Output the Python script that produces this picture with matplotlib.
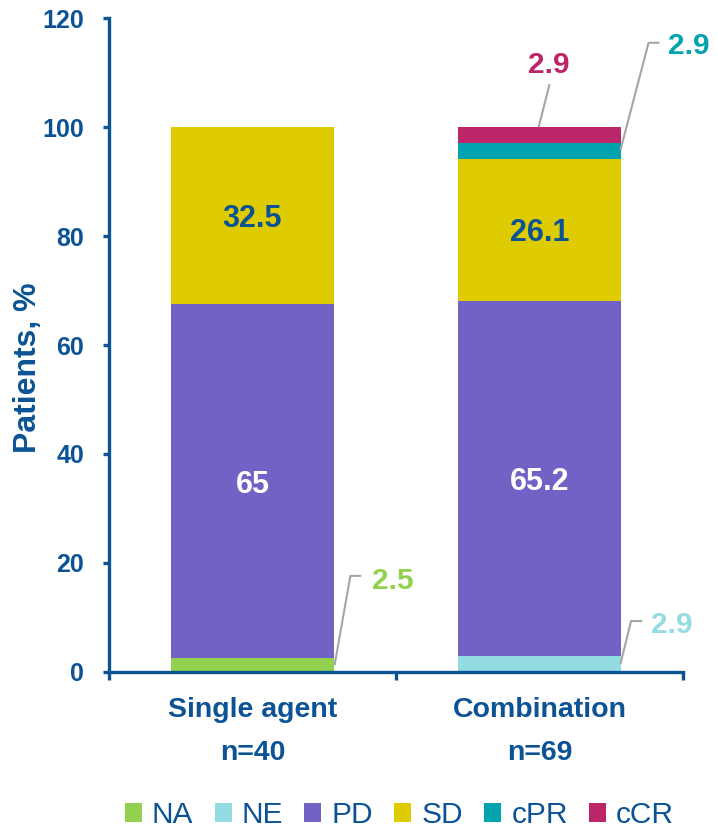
import matplotlib
matplotlib.use("Agg")
import matplotlib.pyplot as plt
from matplotlib.patches import Patch
import numpy as np

plt.rcParams['font.family'] = ['Liberation Sans', 'DejaVu Sans']

groups = ["Single agent", "Combination"]
group_n = ["n=40", "n=69"]
segments = ["NA", "NE", "PD", "SD", "cPR", "cCR"]
values = {
    "NA":  [2.5, 0.0],
    "NE":  [0.0, 2.9],
    "PD":  [65.0, 65.2],
    "SD":  [32.5, 26.1],
    "cPR": [0.0, 2.9],
    "cCR": [0.0, 2.9],
}
colors = {
    "NA": "#92D050",
    "NE": "#93DCE1",
    "PD": "#7262C6",
    "SD": "#DFCC00",
    "cPR": "#00A3AE",
    "cCR": "#BC2567",
}
yticks = [0, 20, 40, 60, 80, 100, 120]

navy = "#0B5394"
gray = "#A6A6A6"

W, H = 718, 830
fig = plt.figure(figsize=(W/100, H/100), dpi=100)
L, R, T, B = 109, 683, 18.3, 671.7
ax = fig.add_axes([L/W, 1-B/H, (R-L)/W, (B-T)/H])

x = np.arange(len(groups))
width = 0.565
bottom = np.zeros(len(groups))
for s in segments:
    v = np.array(values[s])
    ax.bar(x, v, width, bottom=bottom, color=colors[s], edgecolor='none', zorder=2)
    bottom += v

ax.set_xlim(-0.5, 1.5)
ax.set_ylim(0, 120)
ax.set_yticks(yticks)
ax.set_yticklabels([str(t) for t in yticks], fontsize=18, fontweight='bold', color=navy)
ax.set_xticks([])
ax.set_xticks([-0.5, 0.5, 1.5], minor=True)
ax.tick_params(axis='x', which='minor', length=5.5, width=2.4, color=navy, direction='out')
ax.tick_params(axis='y', length=4.5, width=2.4, color=navy, direction='out', pad=13.5)
for sp in ['top', 'right']:
    ax.spines[sp].set_visible(False)
for sp in ['left', 'bottom']:
    ax.spines[sp].set_color(navy)
    ax.spines[sp].set_linewidth(2.4)

fig.text(36/W, 1-367.5/H, "Patients, %", rotation=90, rotation_mode='anchor',
         ha='center', va='baseline', fontsize=23, fontweight='bold', color=navy)

def px2y(py):
    return (B - py) / (B - T) * 120

for i in range(len(groups)):
    ax.text(x[i], px2y(716.5), groups[i], ha='center', va='baseline', fontsize=20.5,
            fontweight='bold', color=navy, clip_on=False)
    ax.text(x[i], px2y(760), group_n[i], ha='center', va='baseline', fontsize=20.5,
            fontweight='bold', color=navy, clip_on=False)

def seg_mid(seg, i):
    idx = segments.index(seg)
    b = sum(values[s][i] for s in segments[:idx])
    return b + values[seg][i] / 2

for i in range(len(groups)):
    ax.text(x[i], seg_mid("SD", i), f"{values['SD'][i]:g}", ha='center', va='center_baseline',
            fontsize=22, fontweight='bold', color=navy, zorder=4)
    ax.text(x[i], seg_mid("PD", i), f"{values['PD'][i]:g}", ha='center', va='center_baseline',
            fontsize=22, fontweight='bold', color='white', zorder=4)

def leader(pts, label, col, tx, ty, ha='left'):
    xs, ys = zip(*pts)
    ax.plot(xs, ys, color=gray, lw=1.5, zorder=3, clip_on=False, solid_capstyle='butt')
    ax.text(tx, ty, label, ha=ha, va='center_baseline', fontsize=21.5, fontweight='bold',
            color=col, clip_on=False)

leader([(0.286, 1.2), (0.341, 17.6), (0.379, 17.6)], f"{values['NA'][0]:g}", colors["NA"], 0.415, 17.3)
leader([(1.282, 1.4), (1.319, 9.3), (1.358, 9.3)], f"{values['NE'][1]:g}", colors["NE"], 1.390, 9.1)
leader([(1.282, 95.8), (1.380, 115.5), (1.418, 115.5)], f"{values['cPR'][1]:g}", colors["cPR"], 1.446, 115.5)
leader([(0.997, 100.0), (1.035, 107.9)], f"{values['cCR'][1]:g}", colors["cCR"], 1.031, 112.0, ha='center')

handles = [Patch(facecolor=colors[s], edgecolor='none', label=s) for s in segments]
fig.legend(handles=handles, loc='center', bbox_to_anchor=(399.5/W, 1-815/H), ncol=6,
           frameon=False, fontsize=21.5, handlelength=0.57, handleheight=0.57,
           handletextpad=0.33, columnspacing=0.72, labelcolor=navy,
           borderaxespad=0, borderpad=0)

fig.savefig("out.png", dpi=100)
